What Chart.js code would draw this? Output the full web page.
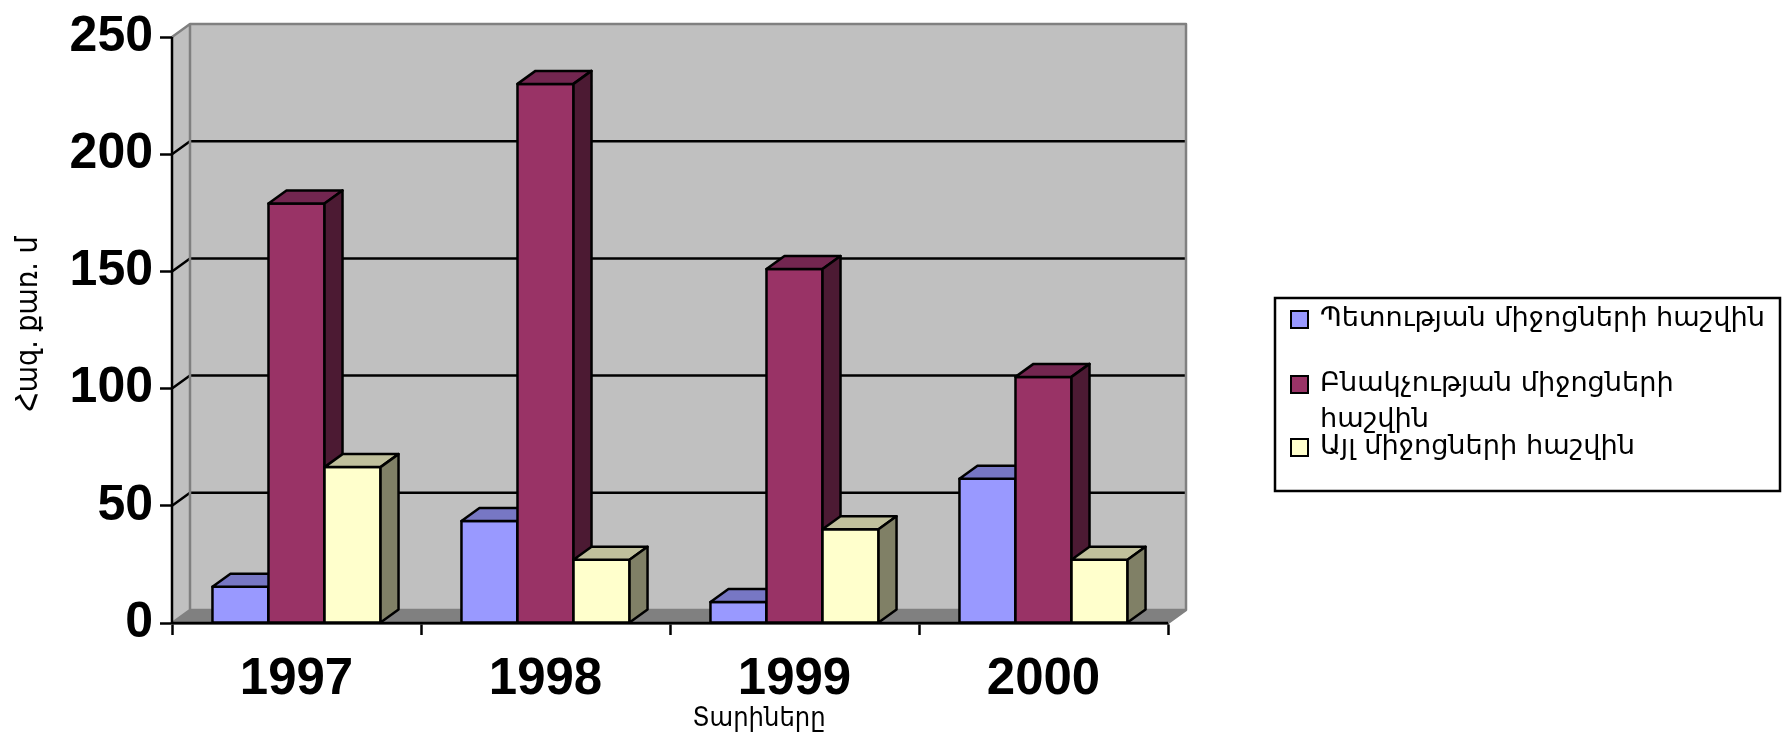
<!DOCTYPE html>
<html>
<head>
<meta charset="utf-8">
<script src="https://cdn.jsdelivr.net/npm/chart.js@4"></script>
<style>
  body { margin: 0; background: #fff; }
  canvas { display: block; }
</style>
</head>
<body>
<canvas id="chart" width="1784" height="743"></canvas>
<script>
// ---------------- DATA ----------------
const years = ["1997", "1998", "1999", "2000"];
const stateFunds = [15.5, 43.5, 9, 61.5];
const populationFunds = [179, 230, 151, 105];
const otherFunds = [66.5, 27, 40, 27];
const seriesNames = [
    "Պետության միջոցների հաշվին",
    "Բնակչության միջոցների հաշվին",
    "Այլ միջոցների հաշվին"
];
const yTicks = [0, 50, 100, 150, 200, 250];
const yTitle = "Հազ. քառ. մ";
const xTitle = "Տարիները";

// ---------------- STYLE ----------------
const frontColors = ["#9999ff", "#993366", "#ffffcc"];
const topColors = ["#7777c4", "#732650", "#c0c09c"];
const sideColors = ["#4d4d80", "#4c1a33", "#808066"];
const DX = 18, DY = -13;
const ARM_FONT = "'DejaVu Sans', sans-serif";
const ARM_NARROW = "'DejaVu Sans Condensed', 'DejaVu Sans', sans-serif";

function poly(ctx, pts, fill) {
    ctx.beginPath();
    ctx.moveTo(pts[0][0], pts[0][1]);
    pts.slice(1).forEach(p => ctx.lineTo(p[0], p[1]));
    ctx.closePath();
    ctx.fillStyle = fill;
    ctx.fill();
    ctx.stroke();
}

// ---------------- WALLS ----------------
const wallPlugin = {
    id: "wall3d",
    beforeDatasetsDraw(chart) {
        const { ctx, chartArea: a, scales: { y } } = chart;
        ctx.save();
        ctx.lineJoin = "round";
        ctx.fillStyle = "#c0c0c0";
        // side wall
        ctx.beginPath();
        ctx.moveTo(a.left, a.top);
        ctx.lineTo(a.left + DX, a.top + DY);
        ctx.lineTo(a.left + DX, a.bottom + DY);
        ctx.lineTo(a.left, a.bottom);
        ctx.closePath();
        ctx.fill();
        // back wall
        ctx.fillRect(a.left + DX, a.top + DY, a.right - a.left, a.bottom - a.top);
        // floor
        ctx.fillStyle = "#808080";
        ctx.beginPath();
        ctx.moveTo(a.left, a.bottom);
        ctx.lineTo(a.left + DX, a.bottom + DY);
        ctx.lineTo(a.right + DX, a.bottom + DY);
        ctx.lineTo(a.right, a.bottom);
        ctx.closePath();
        ctx.fill();

        // grid lines
        ctx.strokeStyle = "#000";
        ctx.lineWidth = 2.5;
        yTicks.forEach(v => {
            if (v === 0 || v === yTicks[yTicks.length - 1]) return;
            const py = y.getPixelForValue(v);
            ctx.beginPath();
            ctx.moveTo(a.left, py);
            ctx.lineTo(a.left + DX, py + DY);
            ctx.lineTo(a.right + DX, py + DY);
            ctx.stroke();
        });

        // wall edges
        ctx.strokeStyle = "#808080";
        ctx.lineWidth = 2.5;
        ctx.beginPath();
        ctx.moveTo(a.left, a.top);
        ctx.lineTo(a.left + DX, a.top + DY);
        ctx.lineTo(a.right + DX, a.top + DY);
        ctx.lineTo(a.right + DX, a.bottom + DY);
        ctx.lineTo(a.right, a.bottom);
        ctx.moveTo(a.left + DX, a.top + DY);
        ctx.lineTo(a.left + DX, a.bottom + DY);
        ctx.lineTo(a.right + DX, a.bottom + DY);
        ctx.moveTo(a.left + DX, a.bottom + DY);
        ctx.lineTo(a.left, a.bottom);
        ctx.stroke();

        // front axes
        ctx.strokeStyle = "#000";
        ctx.lineWidth = 2.5;
        ctx.beginPath();
        ctx.moveTo(a.left, a.top);
        ctx.lineTo(a.left, a.bottom);
        ctx.lineTo(a.right, a.bottom);
        ctx.stroke();
        ctx.restore();
    },

    // ---------------- 3D BARS ----------------
    afterDatasetsDraw(chart) {
        const ctx = chart.ctx;
        ctx.save();
        ctx.strokeStyle = "#000";
        ctx.lineWidth = 2.5;
        ctx.lineJoin = "round";
        years.forEach((_, i) => {
            chart.data.datasets.forEach((ds, d) => {
                const bar = chart.getDatasetMeta(d).data[i];
                const { x, y, base, width } = bar.getProps(["x", "y", "base", "width"], true);
                const l = x - width / 2, r = x + width / 2;
                poly(ctx, [[l, y], [r, y], [r, base], [l, base]], frontColors[d]);
                poly(ctx, [[l, y], [l + DX, y + DY], [r + DX, y + DY], [r, y]], topColors[d]);
                poly(ctx, [[r, y], [r + DX, y + DY], [r + DX, base + DY], [r, base]], sideColors[d]);
            });
        });
        ctx.restore();
    },

    // ---------------- TITLES + LEGEND ----------------
    afterDraw(chart) {
        const ctx = chart.ctx;
        ctx.save();
        ctx.fillStyle = "#000";
        ctx.textBaseline = "middle";

        // x title
        ctx.font = "27px " + ARM_NARROW;
        ctx.textAlign = "center";
        ctx.fillText(xTitle, 759, 719);

        // y title
        ctx.save();
        ctx.translate(29, 324);
        ctx.rotate(-Math.PI / 2);
        ctx.font = "30px " + ARM_NARROW;
        ctx.fillText(yTitle, 0, 0);
        ctx.restore();

        // legend box
        const bx = 1275, by = 298, bw = 505, bh = 193;
        ctx.fillStyle = "#fff";
        ctx.fillRect(bx, by, bw, bh);
        ctx.strokeStyle = "#000";
        ctx.lineWidth = 2.5;
        ctx.strokeRect(bx, by, bw, bh);

        const itemY = [319, 384, 447];
        const textX = 1320, maxW = 452;
        // size the font so the first entry fills the box like the original
        ctx.font = "28px " + ARM_FONT;
        const size = Math.min(30, 28 * 446 / ctx.measureText(seriesNames[0]).width);
        ctx.font = size.toFixed(1) + "px " + ARM_FONT;
        ctx.textAlign = "left";
        seriesNames.forEach((name, d) => {
            ctx.fillStyle = frontColors[d];
            ctx.fillRect(1291, itemY[d] - 8, 17, 17);
            ctx.lineWidth = 2;
            ctx.strokeRect(1291, itemY[d] - 8, 17, 17);
            ctx.fillStyle = "#000";
            // simple word wrap
            const words = name.split(" ");
            let line = "", ly = itemY[d];
            words.forEach(w => {
                const test = line ? line + " " + w : w;
                if (ctx.measureText(test).width > maxW && line) {
                    ctx.fillText(line, textX, ly);
                    line = w;
                    ly += 36;
                } else {
                    line = test;
                }
            });
            ctx.fillText(line, textX, ly);
        });
        ctx.restore();
    }
};

// ---------------- CHART ----------------
new Chart(document.getElementById("chart"), {
    type: "bar",
    data: {
        labels: years,
        datasets: [stateFunds, populationFunds, otherFunds].map((values, d) => ({
            label: seriesNames[d],
            data: values,
            backgroundColor: frontColors[d],
            borderColor: "#000",
            borderWidth: 2,
            categoryPercentage: 0.675,
            barPercentage: 1
        }))
    },
    options: {
        responsive: false,
        animation: false,
        devicePixelRatio: 1,
        layout: { padding: { top: 26, right: 616, left: 0, bottom: 0 } },
        plugins: {
            legend: { display: false },
            tooltip: { enabled: false }
        },
        scales: {
            x: {
                afterFit: s => { s.height = 120; },
                grid: {
                    display: true,
                    drawOnChartArea: false,
                    drawTicks: true,
                    tickLength: 12,
                    tickWidth: 2.5,
                    tickColor: "#000",
                    offset: true
                },
                border: { display: true, color: "#000", width: 2.5 },
                ticks: {
                    color: "#000",
                    padding: 14,
                    font: { family: "'Liberation Sans Narrow', 'Liberation Sans', Arial", size: 51, weight: "bold" }
                }
            },
            y: {
                min: 0,
                max: 250,
                afterFit: s => { s.width = 172; },
                afterBuildTicks: s => { s.ticks = yTicks.map(v => ({ value: v })); },
                grid: {
                    display: true,
                    drawOnChartArea: false,
                    drawTicks: true,
                    tickLength: 12,
                    tickWidth: 2.5,
                    tickColor: "#000"
                },
                border: { display: true, color: "#000", width: 2.5 },
                ticks: {
                    color: "#000",
                    padding: 7,
                    font: { family: "'Liberation Sans', Arial", size: 50, weight: "bold" }
                }
            }
        }
    },
    plugins: [wallPlugin]
});
</script>
</body>
</html>
